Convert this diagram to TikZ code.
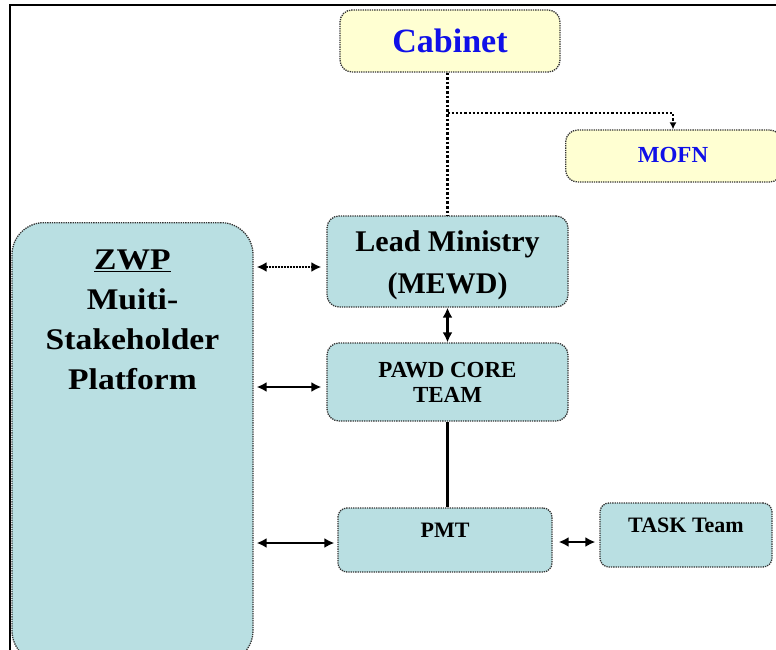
\documentclass[tikz,border=0pt]{standalone}
\usepackage{fontspec}
\setmainfont{Liberation Serif}
\usetikzlibrary{arrows.meta}
\definecolor{boxteal}{HTML}{B9DFE2}
\definecolor{boxyellow}{HTML}{FFFFD2}
\definecolor{textblue}{HTML}{1010E8}
\tikzset{
  orgbox/.style={draw=black!80, line width=1.3pt, densely dotted, fill=boxteal,
    rounded corners=12pt, align=center, font=\bfseries, inner sep=0pt},
  topbox/.style={orgbox, fill=boxyellow, text=textblue},
  link/.style={line width=2pt, {Latex[length=10pt,width=10pt]}-{Latex[length=10pt,width=10pt]}},
  plain/.style={line width=2.6pt},
}
\begin{document}
\begin{tikzpicture}[x=1pt,y=-1pt]
\useasboundingbox (0,0) rectangle (776,650);
\fill[white] (0,0) rectangle (776,650);
% outer frame
\draw[line width=2pt] (776,5) -- (10,5) -- (10,652);

% boxes
\node[topbox, minimum width=220pt, minimum height=62pt, font=\bfseries\fontsize{34}{38}\selectfont]
  (cabinet) at (450,41) {Cabinet};
\node[topbox, minimum width=216pt, minimum height=52pt, anchor=west]
  (mofn) at (565,156) {};
\node[text=textblue, font=\bfseries\fontsize{23}{26}\selectfont] (mofnlabel) at (673,155) {MOFN};
\node[orgbox, minimum width=241pt, minimum height=91pt]
  (lead) at (447.5,261.5) {};
\node[align=center, font=\bfseries\fontsize{30}{42}\selectfont]
  (leadlabel) at (447.5,265) {Lead Ministry\\(MEWD)};
\node[orgbox, minimum width=241pt, minimum height=78pt, font=\bfseries\fontsize{23}{25}\selectfont]
  (pawd) at (447.5,382) {PAWD CORE\\TEAM};
\node[orgbox, minimum width=214pt, minimum height=64pt, rounded corners=9pt]
  (pmt) at (445,540) {};
\node[font=\bfseries\fontsize{22}{24}\selectfont] (pmtlabel) at (445,530) {PMT};
\node[orgbox, minimum width=172pt, minimum height=64pt, rounded corners=9pt]
  (task) at (686,535) {};
\node[font=\bfseries\fontsize{22}{24}\selectfont] (tasklabel) at (686,525) {TASK Team};
\node[orgbox, minimum width=241pt, minimum height=440pt, rounded corners=32pt, anchor=north]
  (zwp) at (132.5,222) {};
\node[anchor=north, align=center, font=\bfseries\fontsize{30}{40}\selectfont]
  (zwplabel) at (132.5,246) {\scalebox{1.12}[1]{\underline{ZWP}}\\\scalebox{1.12}[1]{Muiti-}\\\scalebox{1.12}[1]{Stakeholder}\\\scalebox{1.12}[1]{Platform}};

% connectors
\coordinate (branch) at (lead.north |- 0,113);
\draw[line width=2.6pt, dotted] (cabinet.south -| lead.north) -- (lead.north);
\draw[line width=2.2pt, dotted, -{Latex[length=7pt,width=7pt]}] (branch) -| (mofn.north -| mofnlabel.south);
\draw[link, densely dotted] ([xshift=3pt]zwp.east |- 0,267) -- ([xshift=-5pt]lead.west |- 0,267);
\draw[link] ([xshift=3pt]zwp.east |- 0,387) -- ([xshift=-5pt]pawd.west |- 0,387);
\draw[link] ([xshift=3pt]zwp.east |- 0,543) -- ([xshift=-3pt]pmt.west |- 0,543);
\draw[link, line width=2.6pt] (lead.south) -- (pawd.north);
\draw[plain] (pawd.south) -- (pmt.north -| pawd.south);
\draw[link, line width=2.6pt] ([xshift=6pt]pmt.east |- 0,542) -- ([xshift=-4pt]task.west |- 0,542);
\end{tikzpicture}
\end{document}
